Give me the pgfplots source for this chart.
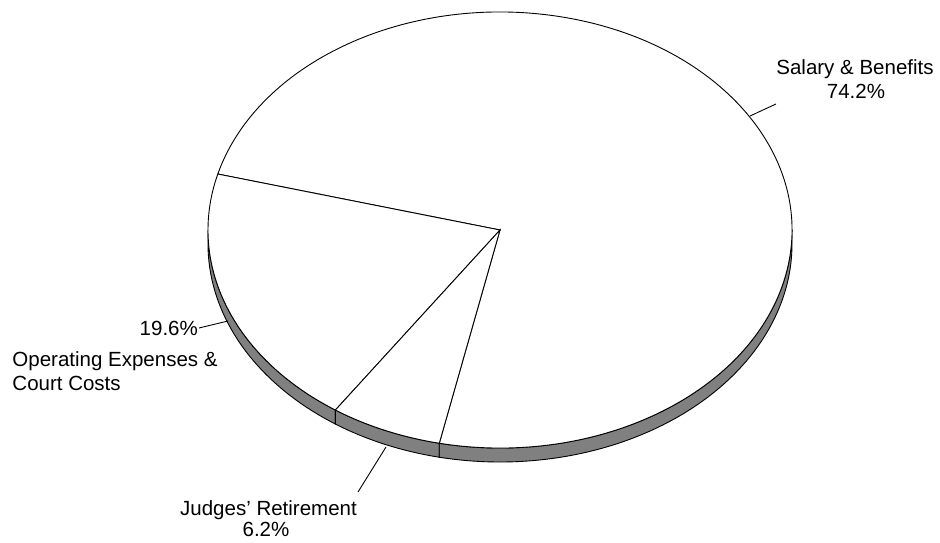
\documentclass[border=0pt]{standalone}
\usepackage{fontspec}
\setmainfont{Liberation Sans}
\usepackage{pgfplots}
\usepackage{pgfplotstable}
\pgfplotsset{compat=1.18}
\tikzset{lbl/.style={inner sep=0pt, font=\fontsize{20.5bp}{24bp}\selectfont}}
\pgfplotstableread{
label value
Salary 74.2
Operating 19.6
Judges 6.2
}\piedata
\begin{document}
\begin{tikzpicture}
\pgfplotstablegetelem{0}{value}\of\piedata \let\vS\pgfplotsretval
\pgfplotstablegetelem{1}{value}\of\piedata \let\vO\pgfplotsretval
\pgfplotstablegetelem{2}{value}\of\piedata \let\vJ\pgfplotsretval
\pgfmathsetmacro\aS{258}
\pgfmathsetmacro\bS{\aS+3.6*\vS}
\pgfmathsetmacro\aO{\bS-360}
\pgfmathsetmacro\bO{\aO+3.6*\vO}
\pgfmathsetmacro\bJ{\bO+3.6*\vJ}
\begin{axis}[
  scale only axis, width=940bp, height=542bp,
  xmin=0, xmax=940, ymin=0, ymax=542,
  enlargelimits=false, hide axis, clip=false,
]
\tikzset{every path/.style={line width=0.9bp}}
% side walls
\draw[fill=gray] (axis cs:{500+292*cos(180)},{312+218*sin(180)}) arc[start angle=180, end angle=\bO, x radius=292bp, y radius=218bp] -- ++(0,-14bp) arc[start angle=\bO, end angle=180, x radius=292bp, y radius=218bp] -- cycle;
\draw[fill=gray] (axis cs:{500+292*cos(\bO)},{312+218*sin(\bO)}) arc[start angle=\bO, end angle=\bJ, x radius=292bp, y radius=218bp] -- ++(0,-14bp) arc[start angle=\bJ, end angle=\bO, x radius=292bp, y radius=218bp] -- cycle;
\draw[fill=gray] (axis cs:{500+292*cos(\aS)},{312+218*sin(\aS)}) arc[start angle=\aS, end angle=360, x radius=292bp, y radius=218bp] -- ++(0,-14bp) arc[start angle=360, end angle=\aS, x radius=292bp, y radius=218bp] -- cycle;
% top faces
\draw[fill=white] (axis cs:500,312) -- (axis cs:{500+292*cos(\aS)},{312+218*sin(\aS)}) arc[start angle=\aS, end angle=\bS, x radius=292bp, y radius=218bp] -- cycle;
\draw[fill=white] (axis cs:500,312) -- (axis cs:{500+292*cos(\aO)},{312+218*sin(\aO)}) arc[start angle=\aO, end angle=\bO, x radius=292bp, y radius=218bp] -- cycle;
\draw[fill=white] (axis cs:500,312) -- (axis cs:{500+292*cos(\bO)},{312+218*sin(\bO)}) arc[start angle=\bO, end angle=\bJ, x radius=292bp, y radius=218bp] -- cycle;
% leader lines
\draw (axis cs:750,426) -- (axis cs:776,438);
\draw (axis cs:199,214) -- (axis cs:228,221);
\draw (axis cs:358,50) -- (axis cs:386,95);
% labels
\node[lbl, anchor=base] at (axis cs:855,467) {Salary \& Benefits};
\node[lbl, anchor=base] at (axis cs:856,443.5) {74.2\%};
\node[lbl, anchor=base east] at (axis cs:198.3,206.3) {19.6\%};
\node[lbl, anchor=base west] at (axis cs:12,175.3) {Operating Expenses \&};
\node[lbl, anchor=base west] at (axis cs:12,151.3) {Court Costs};
\node[lbl, anchor=base] at (axis cs:268.5,27) {Judges’ Retirement};
\node[lbl, anchor=base] at (axis cs:266,5.3) {6.2\%};
\end{axis}
\pgfresetboundingbox
\useasboundingbox (current axis.south west) rectangle (current axis.north east);
\end{tikzpicture}
\end{document}
